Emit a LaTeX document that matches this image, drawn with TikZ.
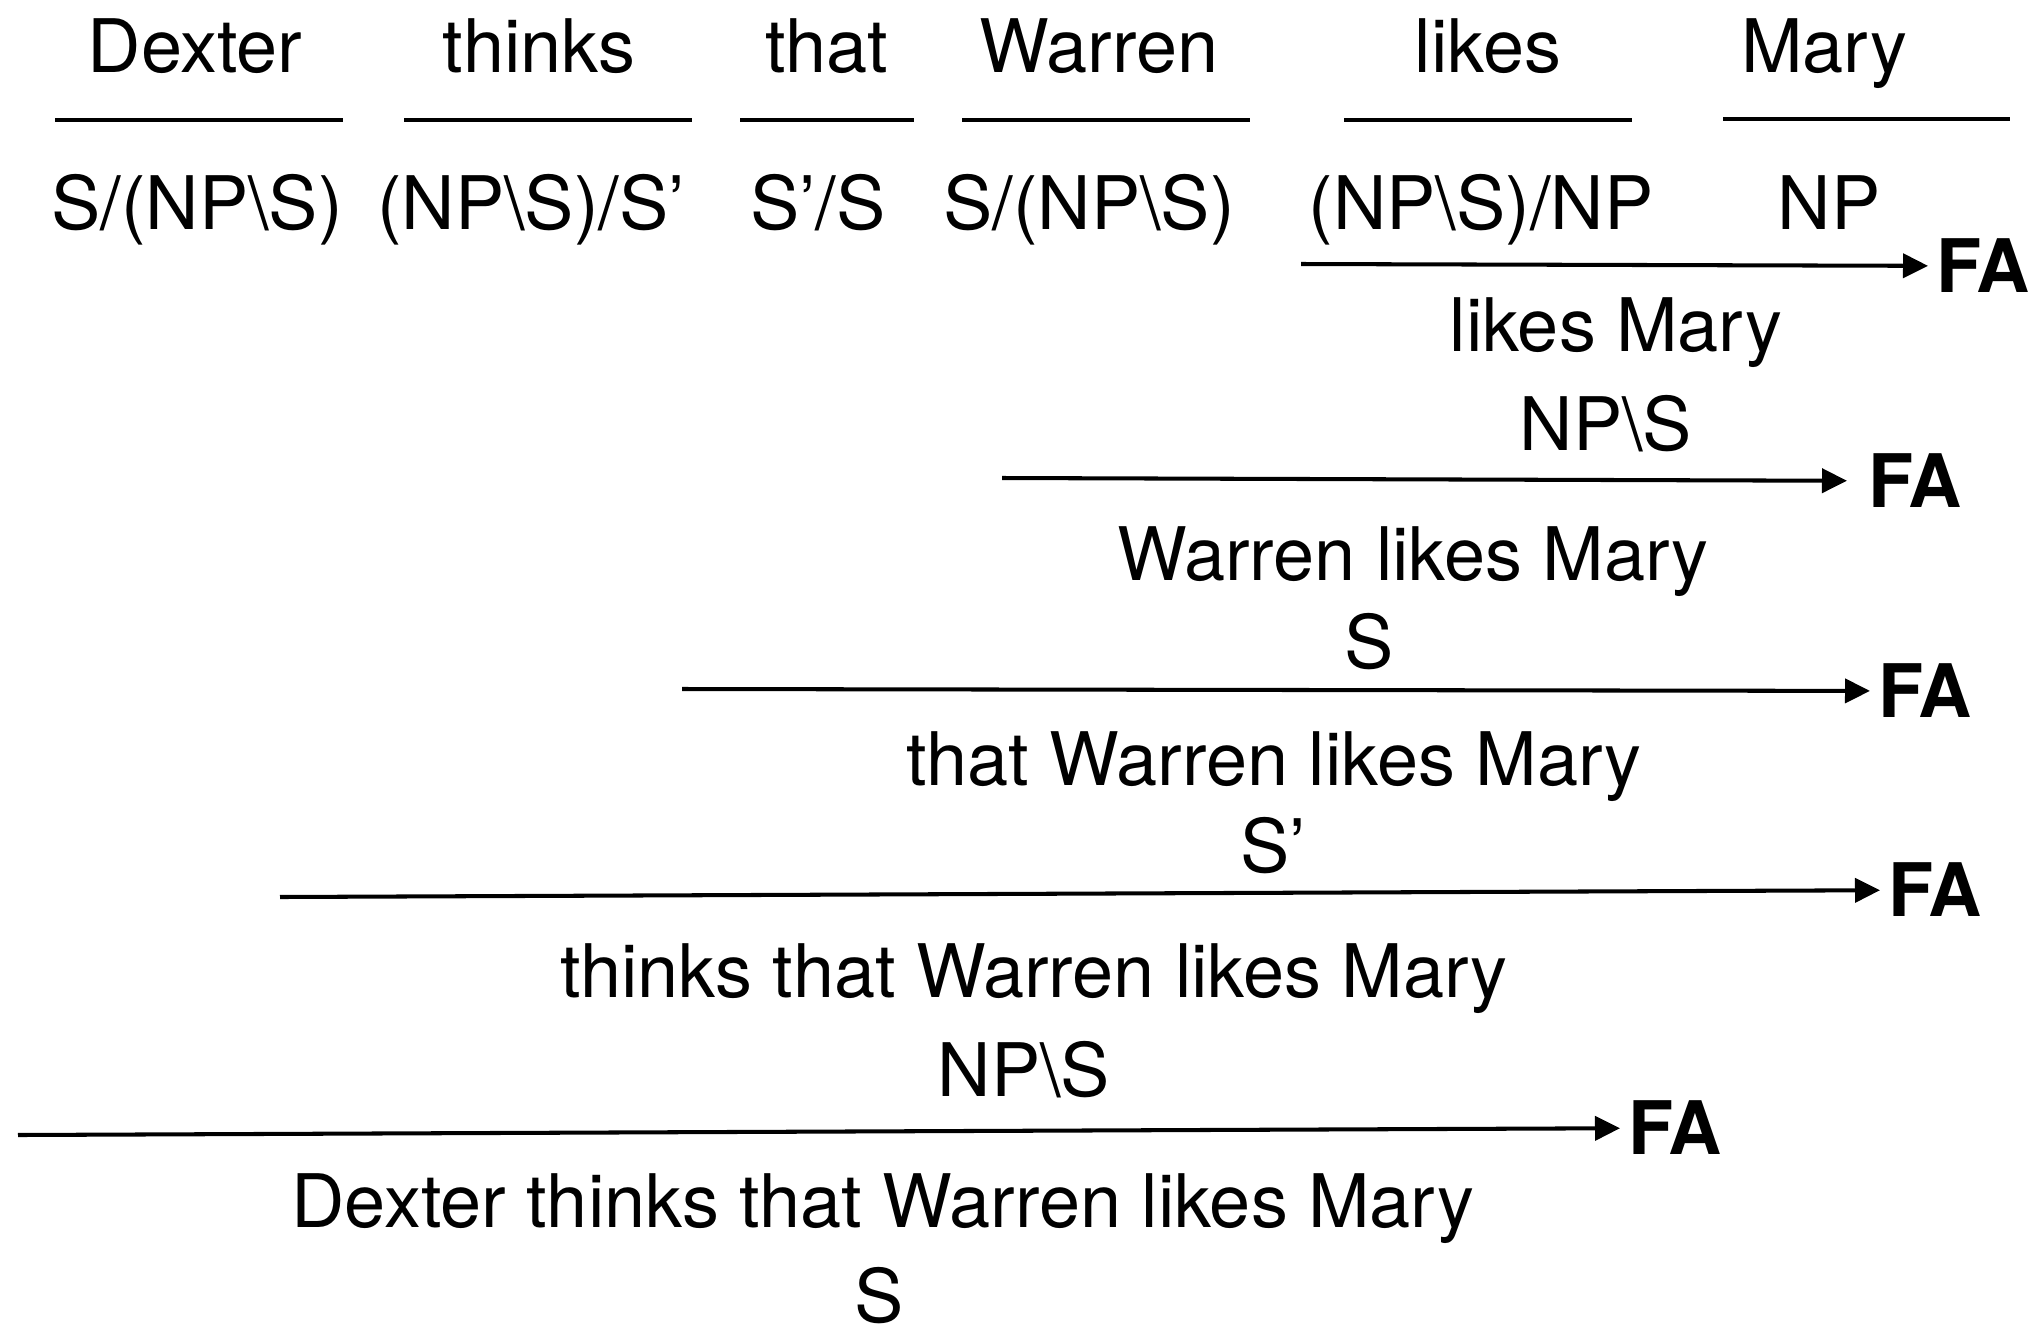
\documentclass[tikz,border=0pt]{standalone}
\usepackage{fontspec}
\setmainfont{TeX Gyre Heros}
\usetikzlibrary{arrows.meta}

\begin{document}
\begin{tikzpicture}[x=0.01cm,y=-0.01cm,
    word/.style={anchor=base,inner sep=0pt,font=\fontsize{21}{25}\selectfont},
    rule/.style={anchor=west,inner sep=0pt,outer sep=0.08cm,
      font=\fontsize{21}{25}\selectfont\bfseries},
    bar/.style={line width=1.4pt},
    deriv/.style={line width=1.15pt,-{Triangle[length=0.25cm,width=0.24cm]}}]
  % Page
  \useasboundingbox (0,0) rectangle (2036,1333);
  %
  % Words
  \node[word] (dexter) at (195,72) {Dexter};
  \node[word] (thinks) at (539,72) {thinks};
  \node[word] (that)   at (827,72) {that};
  \node[word] (warren) at (1099,72) {Warren};
  \node[word] (likes)  at (1488,72) {likes};
  \node[word] (mary)   at (1824,72) {Mary};
  %
  % Lexical bars
  \draw[bar] (55,120) -- (343,120);
  \draw[bar] (404,120) -- (692,120);
  \draw[bar] (740,120) -- (914,120);
  \draw[bar] (962,120) -- (1250,120);
  \draw[bar] (1344,120) -- (1632,120);
  \draw[bar] (1723,119) -- (2010,119);
  %
  % Lexical categories
  \node[word] (catdexter) at (197,229) {S/(NP\textbackslash S)};
  \node[word] (catthinks) at (531,229) {(NP\textbackslash S)/S’};
  \node[word] (catthat)   at (818,229) {S’/S};
  \node[word] (catwarren) at (1089,229) {S/(NP\textbackslash S)};
  \node[word] (catlikes)  at (1481,229) {(NP\textbackslash S)/NP};
  \node[word] (catmary)   at (1829,229) {NP};
  %
  % Step 1: likes + Mary
  \coordinate (st1) at (1301,264);
  \node[rule] (fa1) at (1928,266) {FA};
  \draw[deriv] (st1) -- (fa1);
  \node[word] (vp1)  at (1616,351) {likes Mary};
  \node[word] (cvp1) at (1606,450) {NP\textbackslash S};
  %
  % Step 2: Warren + likes Mary
  \coordinate (st2) at (1002,478);
  \node[rule] (fa2) at (1860,481) {FA};
  \draw[deriv,shorten >=0.13cm] (st2) -- (fa2);
  \node[word] (s2)  at (1413,580) {Warren likes Mary};
  \node[word] (cs2) at (1369,668) {S};
  %
  % Step 3: that + clause
  \coordinate (st3) at (682,689);
  \node[rule] (fa3) at (1870,691) {FA};
  \draw[deriv] (st3) -- (fa3);
  \node[word] (sb3)  at (1274,785) {that Warren likes Mary};
  \node[word] (csb3) at (1273,872) {S’};
  %
  % Step 4: thinks + that-clause
  \coordinate (st4) at (280,897);
  \node[rule] (fa4) at (1880,890) {FA};
  \draw[deriv] (st4) -- (fa4);
  \node[word] (vp4)  at (1034,997) {thinks that Warren likes Mary};
  \node[word] (cvp4) at (1024,1096) {NP\textbackslash S};
  %
  % Step 5: Dexter + verb phrase
  \coordinate (st5) at (18,1135);
  \node[rule] (fa5) at (1620,1128) {FA};
  \draw[deriv] (st5) -- (fa5);
  \node[word] (s5)  at (883,1227) {Dexter thinks that Warren likes Mary};
  \node[word] (cs5) at (879,1322) {S};
  %
\end{tikzpicture}
\end{document}
